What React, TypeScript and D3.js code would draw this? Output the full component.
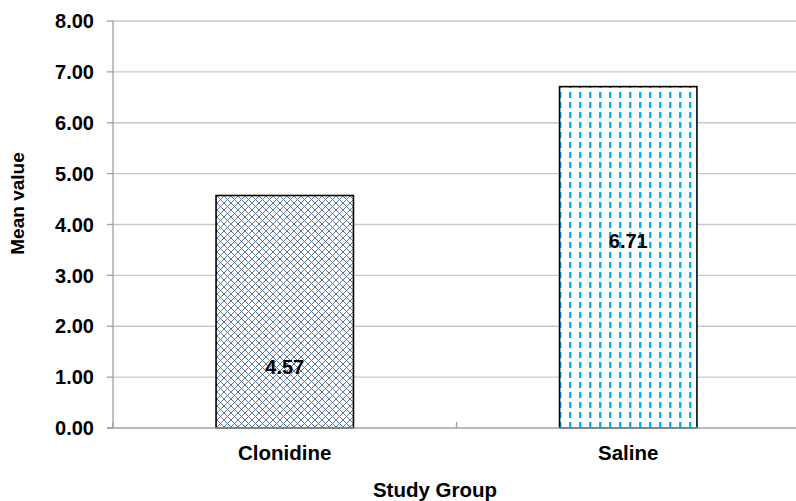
// Bar chart of mean value per study group, drawn with d3 scales.

import * as d3 from "d3";

const groups = ["Clonidine", "Saline"];
const means = [4.57, 6.71];
// where the value label sits inside each bar, in axis units
const labelAt = [1.2, 3.67];
const yTicks = [0, 1, 2, 3, 4, 5, 6, 7, 8];

export default function App() {
  const width = 796;
  const height = 501;
  const [marginTop, marginRight, marginBottom, marginLeft] = [21, -4, 73, 113];

  const x = d3
    .scaleBand<string>()
    .domain(groups)
    .range([marginLeft, width - marginRight])
    .paddingInner(0.6)
    .paddingOuter(0.3);
  const y = d3.scaleLinear([0, 8], [height - marginBottom, marginTop]);

  const font = "'Liberation Sans', Arial, sans-serif";
  const fills = ["url(#cross)", "url(#dash)"];
  const edges = [marginLeft, ...groups.map((g) => x(g)! + x.bandwidth() / 2 + x.step() / 2)];

  return (
    <svg
      width={width}
      height={height}
      style={{ position: "absolute", left: 0, top: 0, background: "#fff" }}
      fontFamily={font}
      fontWeight="bold"
    >
      <defs>
        <pattern id="cross" width="7" height="7" patternUnits="userSpaceOnUse">
          <rect width="7" height="7" fill="#fff" />
          <path d="M0,0L7,7M7,0L0,7" stroke="#5a78a6" strokeWidth="1" />
        </pattern>
        <pattern
          id="dash"
          width="10"
          height="10"
          patternUnits="userSpaceOnUse"
          x={x("Saline")! + 9.5}
          y="2"
        >
          <rect width="10" height="10" fill="#fff" />
          <rect x="0" y="0" width="2.4" height="6" fill="#00b0f0" />
        </pattern>
      </defs>

      {/* gridlines */}
      <g stroke="#c8c8c8" strokeWidth="1.3">
        {yTicks.slice(1).map((t) => (
          <line key={t} x1={marginLeft} x2={width + 10} y1={y(t)} y2={y(t)} />
        ))}
      </g>

      {/* bars */}
      {groups.map((g, i) => (
        <rect
          key={g}
          x={x(g)}
          y={y(means[i])}
          width={x.bandwidth()}
          height={y(0) - y(means[i])}
          fill={fills[i]}
          stroke="#000"
          strokeWidth="1.6"
        />
      ))}

      {/* axes */}
      <g stroke="#a0a0a0" strokeWidth="1.3">
        <line x1={marginLeft} x2={marginLeft} y1={y(8)} y2={y(0)} />
        <line x1={marginLeft - 6} x2={width + 10} y1={y(0)} y2={y(0)} />
        {yTicks.map((t) => (
          <line key={t} x1={marginLeft - 6} x2={marginLeft} y1={y(t)} y2={y(t)} />
        ))}
        {edges.map((e, i) => (
          <line key={i} x1={e} x2={e} y1={y(0)} y2={y(0) - 6} />
        ))}
      </g>

      <g fontSize="20" textAnchor="end">
        {yTicks.map((t) => (
          <text key={t} x={marginLeft - 19} y={y(t)} dy="0.36em">
            {d3.format(".2f")(t)}
          </text>
        ))}
      </g>

      <g fontSize="20" textAnchor="middle">
        {groups.map((g, i) => (
          <text key={g} x={x(g)! + x.bandwidth() / 2} y={y(labelAt[i])} dy="0.36em">
            {d3.format(".2f")(means[i])}
          </text>
        ))}
      </g>

      <g fontSize="20.5" textAnchor="middle">
        {groups.map((g) => (
          <text key={g} x={x(g)! + x.bandwidth() / 2} y={460}>
            {g}
          </text>
        ))}
        <text x={435} y={497}>
          Study Group
        </text>
      </g>

      <text
        fontSize="19"
        textAnchor="middle"
        transform={`translate(24, ${(y(0) + y(8)) / 2 - 21}) rotate(-90)`}
      >
        Mean value
      </text>
    </svg>
  );
}
